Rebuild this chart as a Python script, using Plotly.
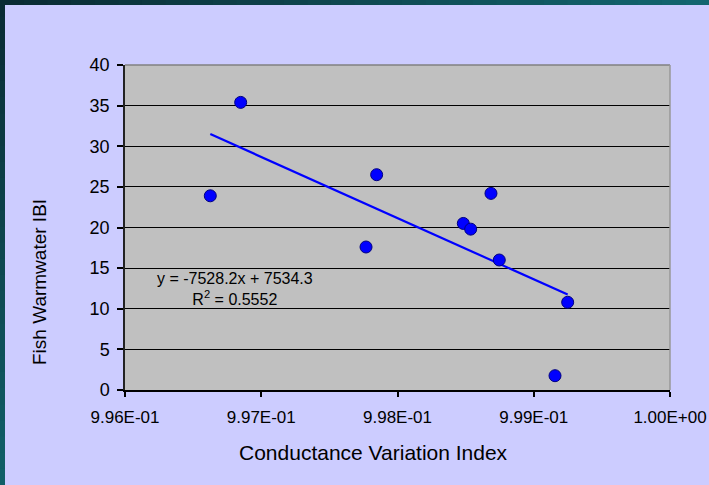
import plotly.graph_objects as go

# ---- data ----
x_vals = [0.996626, 0.996849, 0.997847, 0.997769, 0.998483, 0.998537, 0.998686, 0.998747, 0.999249, 0.999156]
y_vals = [23.9, 35.4, 26.5, 17.6, 20.5, 19.8, 24.2, 16.0, 10.8, 1.76]
trend_slope = -7528.2
trend_intercept = 7534.3
r_squared = 0.5552
x_tickvals = [0.996, 0.997, 0.998, 0.999, 1.000]
x_ticktext = ["9.96E-01", "9.97E-01", "9.98E-01", "9.99E-01", "1.00E+00"]
y_tickvals = [0, 5, 10, 15, 20, 25, 30, 35, 40]

FONT = "Liberation Sans, Arial, sans-serif"

# figure geometry (pixels)
W, H = 709, 485
L, R, T, B = 125, 39, 65, 95
PW, PH = W - L - R, H - T - B

def px_x(p):
    return (p - L) / PW

def px_y(p):
    return (H - B - p) / PH

trend_x = [min(x_vals), max(x_vals)]
trend_y = [trend_slope * v + trend_intercept for v in trend_x]

fig = go.Figure()
fig.add_trace(go.Scatter(
    x=trend_x, y=trend_y, mode="lines",
    line=dict(color="#0000FF", width=2.2), hoverinfo="skip", showlegend=False))
fig.add_trace(go.Scatter(
    x=x_vals, y=y_vals, mode="markers",
    marker=dict(color="#0000FF", size=12, line=dict(color="#000080", width=1)),
    showlegend=False))

shapes = []
# teal gradient border strips (top and left)
n = 30
def mix(c1, c2, t):
    return "rgb(%d,%d,%d)" % tuple(round(a + (b - a) * t) for a, b in zip(c1, c2))
dark = (10, 42, 50)
light_r = (18, 102, 112)
light_b = (16, 96, 104)
for i in range(n):
    x0 = i * W / n
    x1 = (i + 1) * W / n + 1
    shapes.append(dict(type="rect", xref="paper", yref="paper", layer="below",
                       x0=px_x(x0), x1=px_x(x1), y0=px_y(5), y1=px_y(-1),
                       fillcolor=mix(dark, light_r, (i + 0.5) / n), line=dict(width=0)))
    y0 = i * H / n
    y1 = (i + 1) * H / n + 1
    shapes.append(dict(type="rect", xref="paper", yref="paper", layer="below",
                       x0=px_x(-1), x1=px_x(5), y0=px_y(y1), y1=px_y(y0),
                       fillcolor=mix(dark, light_b, (i + 0.5) / n), line=dict(width=0)))
# grey top / right border of plot area
shapes.append(dict(type="line", xref="paper", yref="paper", layer="above",
                   x0=0, x1=1, y0=1, y1=1, line=dict(color="#808080", width=1.5)))
shapes.append(dict(type="line", xref="paper", yref="paper", layer="above",
                   x0=1, x1=1, y0=0, y1=1, line=dict(color="#999999", width=1.5)))

annotations = [
    dict(xref="x", yref="y", x=0.996807, y=12.4, showarrow=False,
         xanchor="center", yanchor="middle",
         text="y = -7528.2x + 7534.3<br>R<sup>2</sup> = %.4f" % r_squared,
         font=dict(family=FONT, size=16, color="#000000"), align="center"),
    dict(xref="paper", yref="paper", x=px_x(39), y=px_y(282), showarrow=False,
         xanchor="center", yanchor="middle",
         text="Fish Warmwater IBI", textangle=-90,
         font=dict(family=FONT, size=19, color="#000000")),
    dict(xref="paper", yref="paper", x=px_x(373), y=px_y(452), showarrow=False,
         xanchor="center", yanchor="middle",
         text="Conductance Variation Index",
         font=dict(family=FONT, size=21, color="#000000")),
]

fig.update_layout(
    width=W, height=H,
    margin=dict(l=L, r=R, t=T, b=B, pad=0, autoexpand=False),
    paper_bgcolor="#CCCCFF",
    plot_bgcolor="#C0C0C0",
    shapes=shapes,
    annotations=annotations,
    showlegend=False,
    xaxis=dict(
        range=[0.996, 1.000], tickvals=x_tickvals, ticktext=x_ticktext,
        showgrid=False, zeroline=False,
        showline=True, linecolor="#000000", linewidth=1.5,
        ticks="outside", ticklen=5, tickcolor="#000000", tickwidth=1.5,
        tickfont=dict(family=FONT, size=17, color="#000000"),
        ticklabelstandoff=6,
    ),
    yaxis=dict(
        range=[0, 40], tickvals=y_tickvals,
        showgrid=True, gridcolor="#000000", gridwidth=1.2, zeroline=False,
        showline=True, linecolor="#222222", linewidth=1.5,
        ticks="outside", ticklen=6, tickcolor="#000000", tickwidth=1.5,
        tickfont=dict(family=FONT, size=18, color="#000000"),
        ticklabelstandoff=4,
    ),
)

fig.write_html(
    "out.html",
    config={"displayModeBar": False},
    post_script="document.body.style.margin='0';document.body.style.overflow='hidden';",
)
